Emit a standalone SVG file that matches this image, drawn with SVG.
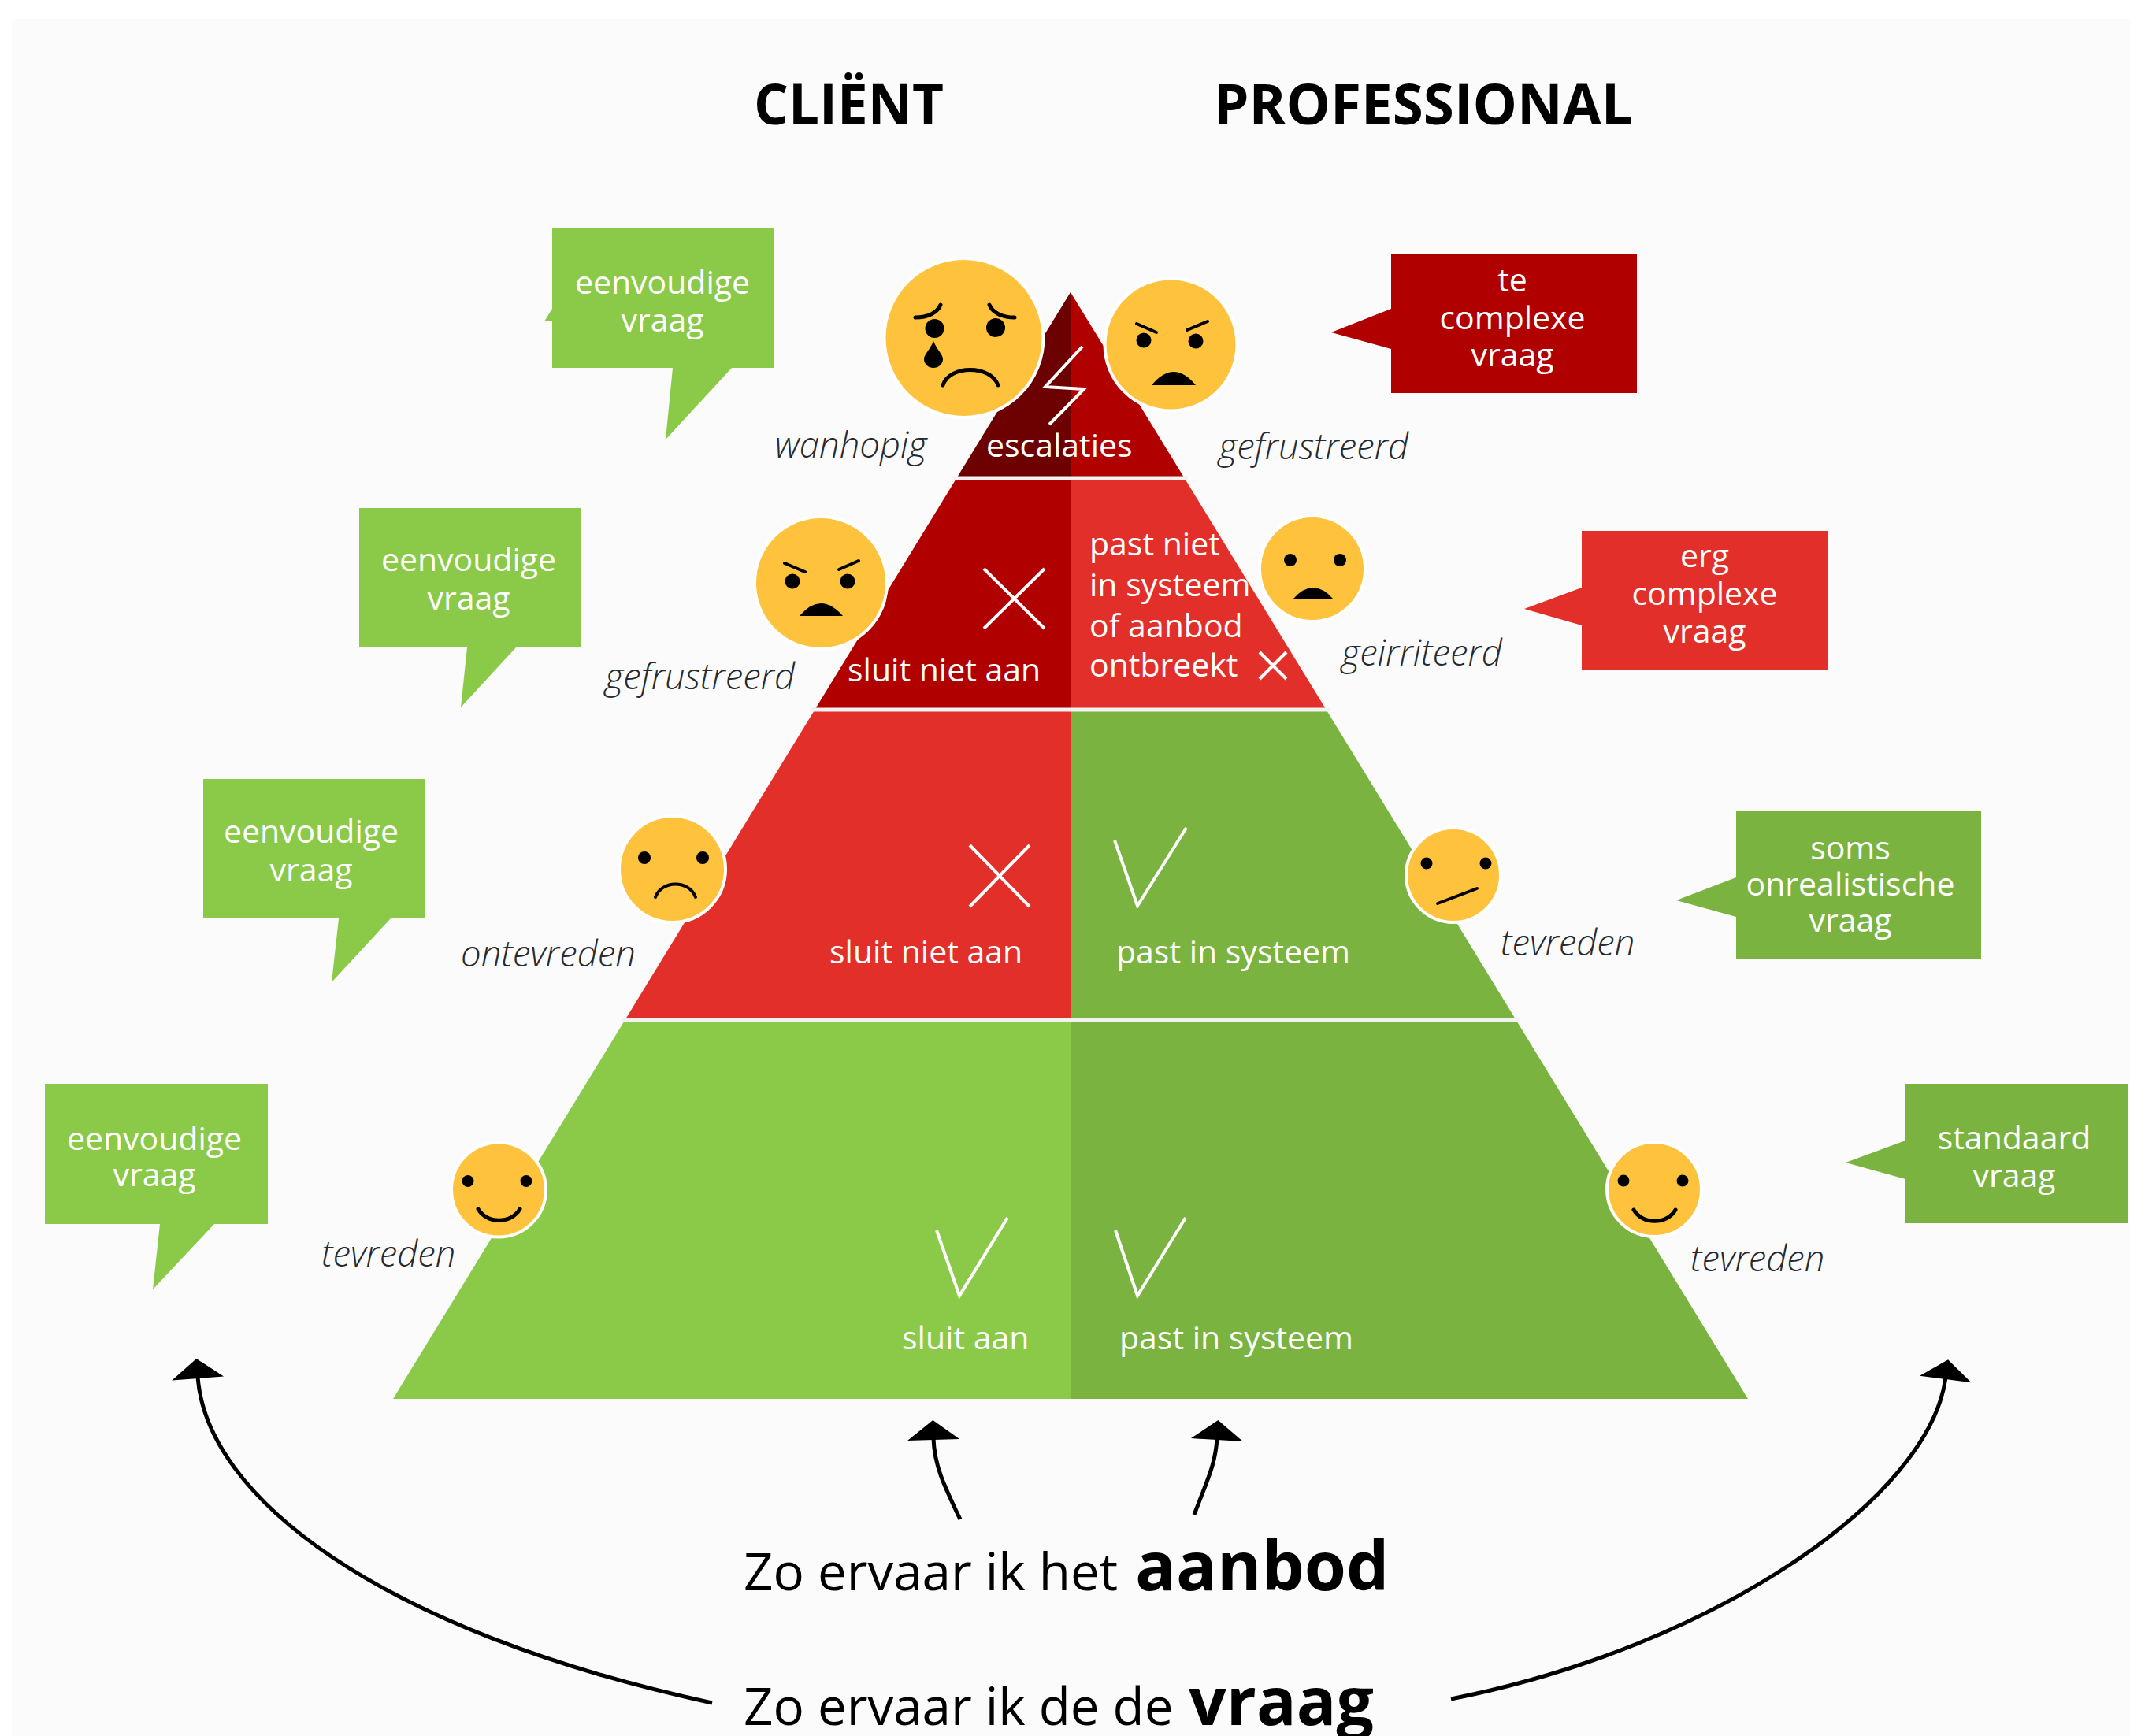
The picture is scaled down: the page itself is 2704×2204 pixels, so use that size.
<svg xmlns="http://www.w3.org/2000/svg" width="2704" height="2204" viewBox="0 0 2704 2204">
<defs>
<style>
text{font-family:"Open Sans","Noto Sans","Liberation Sans",sans-serif}
.w{fill:#fff;font-size:41px}
.m{text-anchor:middle}
.e{fill:#262a30;font-size:45.5px;font-style:italic;font-weight:300}
.t{fill:#000;font-size:71px;font-weight:700}
.b{fill:#000;font-size:65.5px}
.bb{fill:#000;font-size:84px;font-weight:700}
.face{fill:#ffc23d;stroke:#fff;stroke-width:4}
.k{fill:#000}
.s{fill:none;stroke:#000;stroke-width:5;stroke-linecap:round}
.mk{fill:none;stroke:#fff;stroke-width:4}
.sep{stroke:#f2f2f2;stroke-width:5}
.lg{fill:#8aca48}.dg{fill:#7ab340}.r{fill:#e32f2a}.dr{fill:#b00000}.xr{fill:#6d0000}
.arc{fill:none;stroke:#000;stroke-width:5}
</style>
<marker id="head" markerUnits="userSpaceOnUse" markerWidth="60" markerHeight="80" viewBox="-5 -40 40 80" refX="0" refY="0" orient="auto" overflow="visible"><path d="M-2,-33L23,0L-2,33Z" fill="#000"/></marker>
</defs>
<rect width="2704" height="2204" fill="#fff"/>
<rect x="15" y="24" width="2689" height="2180" fill="#fbfbfb"/>

<g id="pyramid">
<polygon class="xr" points="1359,371 1215,606 1359,606"/>
<polygon class="dr" points="1359,371 1503,606 1359,606"/>
<polygon class="dr" points="1215,606 1035,900 1359,900 1359,606"/>
<polygon class="r" points="1503,606 1683,900 1359,900 1359,606"/>
<polygon class="r" points="1035,900 794,1294 1359,1294 1359,900"/>
<polygon class="dg" points="1683,900 1924,1294 1359,1294 1359,900"/>
<polygon class="lg" points="794,1294 499,1776 1359,1776 1359,1294"/>
<polygon class="dg" points="1924,1294 2219,1776 1359,1776 1359,1294"/>
<line class="sep" x1="1210" y1="607" x2="1508" y2="607"/>
<line class="sep" x1="1030" y1="901" x2="1688" y2="901"/>
<line class="sep" x1="789" y1="1295" x2="1929" y2="1295"/>
<polyline class="mk" points="1374,440 1327,491 1376,494 1332,539"/>
<path class="mk" d="M1249,722L1326,798M1326,722L1249,798"/>
<path class="mk" d="M1599,828L1633,862M1633,828L1599,862"/>
<path class="mk" d="M1231,1073L1307,1151M1307,1073L1231,1151"/>
<polyline class="mk" points="1415,1067 1444,1150 1506,1051"/>
<polyline class="mk" points="1189,1562 1218,1645 1279,1546"/>
<polyline class="mk" points="1416,1562 1444,1645 1505,1546"/>
<text class="w" x="1252" y="580">escalaties</text>
<text class="w" x="1076" y="865">sluit niet aan</text>
<text class="w" x="1383" y="705">past niet</text>
<text class="w" x="1383" y="757">in systeem</text>
<text class="w" x="1383" y="809">of aanbod</text>
<text class="w" x="1383" y="859">ontbreekt</text>
<text class="w" x="1053" y="1223">sluit niet aan</text>
<text class="w" x="1417" y="1223">past in systeem</text>
<text class="w" x="1145" y="1713">sluit aan</text>
<text class="w" x="1421" y="1713">past in systeem</text>
</g>

<g id="title">
<text class="t" x="957" y="158" textLength="241" lengthAdjust="spacingAndGlyphs">CLIËNT</text>
<text class="t" x="1541" y="158">PROFESSIONAL</text>
</g>

<g id="bubble-client-1"><polygon class="lg" points="701,289 983,289 983,467 929,467 845,558 854,467 701,467 701,408 691,408 701,392"/><text class="w m" x="841" y="373">eenvoudige</text><text class="w m" x="841" y="421">vraag</text></g>
<g id="bubble-client-2"><polygon class="lg" points="456,645 738,645 738,822 655,822 585,898 593,822 456,822"/><text class="w m" x="595" y="725">eenvoudige</text><text class="w m" x="595" y="774">vraag</text></g>
<g id="bubble-client-3"><polygon class="lg" points="258,989 540,989 540,1166 496,1166 421,1247 430,1166 258,1166"/><text class="w m" x="395" y="1070">eenvoudige</text><text class="w m" x="395" y="1119">vraag</text></g>
<g id="bubble-client-4"><polygon class="lg" points="57,1376 340,1376 340,1554 272,1554 194,1637 203,1554 57,1554"/><text class="w m" x="196" y="1460">eenvoudige</text><text class="w m" x="196" y="1506">vraag</text></g>

<g id="bubble-prof-1"><polygon class="dr" points="1766,322 2078,322 2078,499 1766,499 1766,443 1690,422 1766,392"/><text class="w m" x="1920" y="370">te</text><text class="w m" x="1920" y="418">complexe</text><text class="w m" x="1920" y="465">vraag</text></g>
<g id="bubble-prof-2"><polygon class="r" points="2008,674 2320,674 2320,851 2008,851 2008,794 1935,773 2008,746"/><text class="w m" x="2164" y="720">erg</text><text class="w m" x="2164" y="768">complexe</text><text class="w m" x="2164" y="816">vraag</text></g>
<g id="bubble-prof-3"><polygon class="dg" points="2204,1029 2515,1029 2515,1218 2204,1218 2204,1164 2128,1143 2204,1114"/><text class="w m" x="2349" y="1091">soms</text><text class="w m" x="2349" y="1137">onrealistische</text><text class="w m" x="2349" y="1183">vraag</text></g>
<g id="bubble-prof-4"><polygon class="dg" points="2419,1376 2701,1376 2701,1553 2419,1553 2419,1497 2343,1476 2419,1448"/><text class="w m" x="2557" y="1459">standaard</text><text class="w m" x="2557" y="1507">vraag</text></g>

<g id="face-wanhopig">
<circle class="face" cx="1223.5" cy="429" r="101"/>
<circle class="k" cx="1186.5" cy="417" r="12"/><circle class="k" cx="1264" cy="416" r="12"/>
<path class="k" d="M1185,433C1180,445 1173,450 1173,456A12,11 0 0 0 1197,456C1197,450 1190,445 1185,433Z"/>
<path class="s" d="M1162,403C1178,403 1190,397 1194,387M1256,387C1260,397 1272,403 1288,403"/>
<path class="s" d="M1197,489C1205,463 1258,463 1267,489"/>
<text class="e" x="984" y="581">wanhopig</text>
</g>
<g id="face-gefrustreerd-prof">
<circle class="face" cx="1486.5" cy="437.5" r="84"/>
<circle class="k" cx="1452" cy="432" r="9.5"/><circle class="k" cx="1518" cy="433" r="9.5"/>
<path class="s" d="M1443,411L1468,422M1533,408L1507,419" style="stroke-width:4"/>
<path class="k" d="M1462,489Q1490,455 1518,489Z"/>
<text class="e" x="1547" y="583">gefrustreerd</text>
</g>
<g id="face-gefrustreerd-client">
<circle class="face" cx="1042" cy="740" r="84"/>
<circle class="k" cx="1006" cy="738" r="9.5"/><circle class="k" cx="1076" cy="738" r="9.5"/>
<path class="s" d="M996,715L1022,726M1090,712L1065,723" style="stroke-width:4"/>
<path class="k" d="M1015,782Q1042,750 1070,782Z"/>
<text class="e" x="768" y="875">gefrustreerd</text>
</g>
<g id="face-geirriteerd">
<circle class="face" cx="1666" cy="722" r="67"/>
<circle class="k" cx="1638" cy="711" r="8"/><circle class="k" cx="1701" cy="711" r="8"/>
<path class="k" d="M1641,761Q1667,731 1693,761Z"/>
<text class="e" x="1703" y="845">geirriteerd</text>
</g>
<g id="face-ontevreden">
<circle class="face" cx="853.5" cy="1103.5" r="67.5"/>
<circle class="k" cx="818" cy="1089" r="8"/><circle class="k" cx="892" cy="1089" r="8"/>
<path class="s" d="M832,1139C840,1117 875,1117 883,1139" style="stroke-width:4"/>
<text class="e" x="585" y="1227">ontevreden</text>
</g>
<g id="face-tevreden-prof-neutraal">
<circle class="face" cx="1845" cy="1111" r="60"/>
<circle class="k" cx="1811" cy="1096" r="7.5"/><circle class="k" cx="1886" cy="1096" r="7.5"/>
<path class="s" d="M1825,1147L1875,1128" style="stroke-width:4"/>
<text class="e" x="1905" y="1213">tevreden</text>
</g>
<g id="face-tevreden-client">
<circle class="face" cx="633" cy="1510.5" r="60"/>
<circle class="k" cx="594" cy="1499.5" r="7.5"/><circle class="k" cx="668" cy="1499.5" r="7.5"/>
<path class="s" d="M607,1535C618,1554 649,1554 660,1535"/>
<text class="e" x="408" y="1608">tevreden</text>
</g>
<g id="face-tevreden-prof">
<circle class="face" cx="2100" cy="1510" r="60"/>
<circle class="k" cx="2061" cy="1499" r="7.5"/><circle class="k" cx="2136" cy="1499" r="7.5"/>
<path class="s" d="M2074,1536C2085,1555 2116,1555 2127,1536"/>
<text class="e" x="2146" y="1614">tevreden</text>
</g>

<g id="connectors">
<path class="arc" marker-end="url(#head)" d="M904,2162C480,2070 262,1900 251,1748"/>
<path class="arc" marker-end="url(#head)" d="M1842,2157C2180,2090 2450,1900 2470,1749"/>
<path class="arc" marker-end="url(#head)" d="M1219,1929C1198,1885 1186,1860 1185,1826"/>
<path class="arc" marker-end="url(#head)" d="M1516,1923C1532,1880 1543,1860 1545,1826"/>
</g>

<g id="captions">
<text class="b" x="944" y="2019">Zo ervaar ik het</text><text class="bb" x="1441" y="2019" style="font-size:86px">aanbod</text>
<text class="b" x="944" y="2190">Zo ervaar ik de de</text><text class="bb" x="1509" y="2190">vraag</text>
</g>
</svg>
